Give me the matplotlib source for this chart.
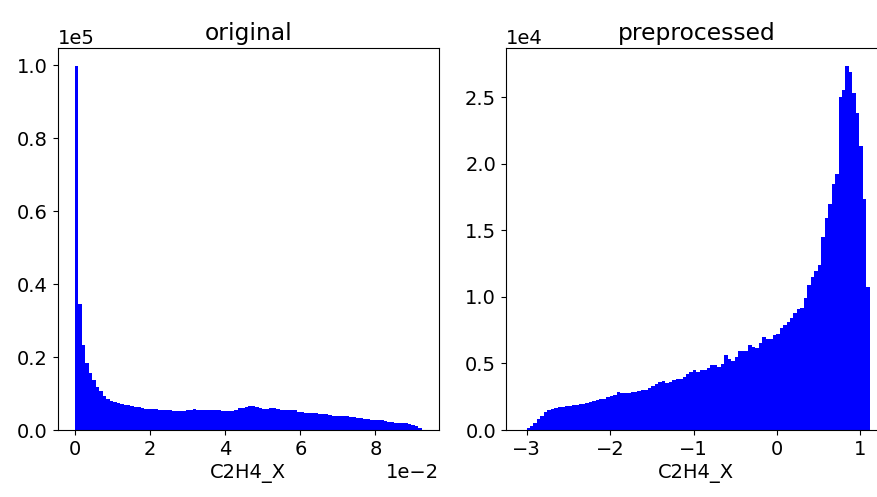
import numpy as np
import matplotlib
matplotlib.use("Agg")
import matplotlib.pyplot as plt

# histogram counts (100 bins each)
original_range = (0.0, 0.0923)
original_counts = [
    99800, 34600, 23200, 18500, 15700, 13600, 11700, 10600, 9200, 8500,
    7900, 7600, 7400, 7200, 6950, 6750, 6550, 6400, 6200, 6000,
    5850, 5750, 5700, 5650, 5600, 5600, 5500, 5450, 5350, 5250,
    5100, 5250, 5400, 5500, 5700, 5600, 5450, 5500, 5550, 5550,
    5600, 5450, 5250, 5150, 5200, 5250, 5400, 5900, 6100, 6400,
    6700, 6600, 6400, 6100, 5700, 5750, 5950, 6000, 5800, 5600,
    5600, 5450, 5400, 5400, 5000, 4950, 4800, 4800, 4650, 4600,
    4500, 4500, 4450, 4000, 3950, 3950, 3850, 3850, 3800, 3650,
    3600, 3250, 3200, 3100, 2900, 2850, 2750, 2700, 2650, 2350,
    2300, 2250, 2050, 2000, 1950, 1800, 1750, 1450, 1000, 600,
]

preprocessed_range = (-3.044, 1.112)
preprocessed_counts = [
    30, 125, 325, 550, 800, 1075, 1325, 1500, 1600, 1675,
    1725, 1750, 1775, 1825, 1875, 1900, 1925, 1975, 2025, 2100,
    2175, 2225, 2325, 2350, 2450, 2575, 2650, 2825, 2800, 2750,
    2800, 2875, 2875, 2900, 2975, 3000, 3175, 3275, 3425, 3575,
    3675, 3550, 3600, 3725, 3800, 3800, 4000, 4175, 4375, 4500,
    4375, 4500, 4500, 4675, 4850, 4850, 4750, 4950, 5625, 5300,
    5200, 5500, 5900, 5900, 5925, 6400, 6255, 6155, 6555, 6955,
    6855, 6830, 7130, 7180, 7630, 7880, 8130, 8430, 8755, 9055,
    9155, 9905, 10885, 11480, 11950, 12385, 14460, 15900, 16960, 18440,
    19190, 25020, 25520, 27320, 26850, 25270, 23820, 21320, 17315, 10760,
]

titles = ["original", "preprocessed"]
xlabel = "C2H4_X"


def plot_hist(ax, counts, data_range, title):
    edges = np.linspace(data_range[0], data_range[1], len(counts) + 1)
    ax.hist(edges[:-1], bins=edges, weights=counts, color="blue")
    ax.set_title(title)
    ax.set_xlabel(xlabel)
    ax.ticklabel_format(style="sci", scilimits=(0, 0), axis="both")


plt.rcParams["font.size"] = 14

fig, (ax1, ax2) = plt.subplots(1, 2, figsize=(8.78, 4.97), dpi=100)
fig.subplots_adjust(left=0.0657, right=1.0103, bottom=0.1348, top=0.9034,
                    wspace=0.175)

plot_hist(ax1, original_counts, original_range, titles[0])
plot_hist(ax2, preprocessed_counts, preprocessed_range, titles[1])

fig.savefig("out.png", dpi=100)
